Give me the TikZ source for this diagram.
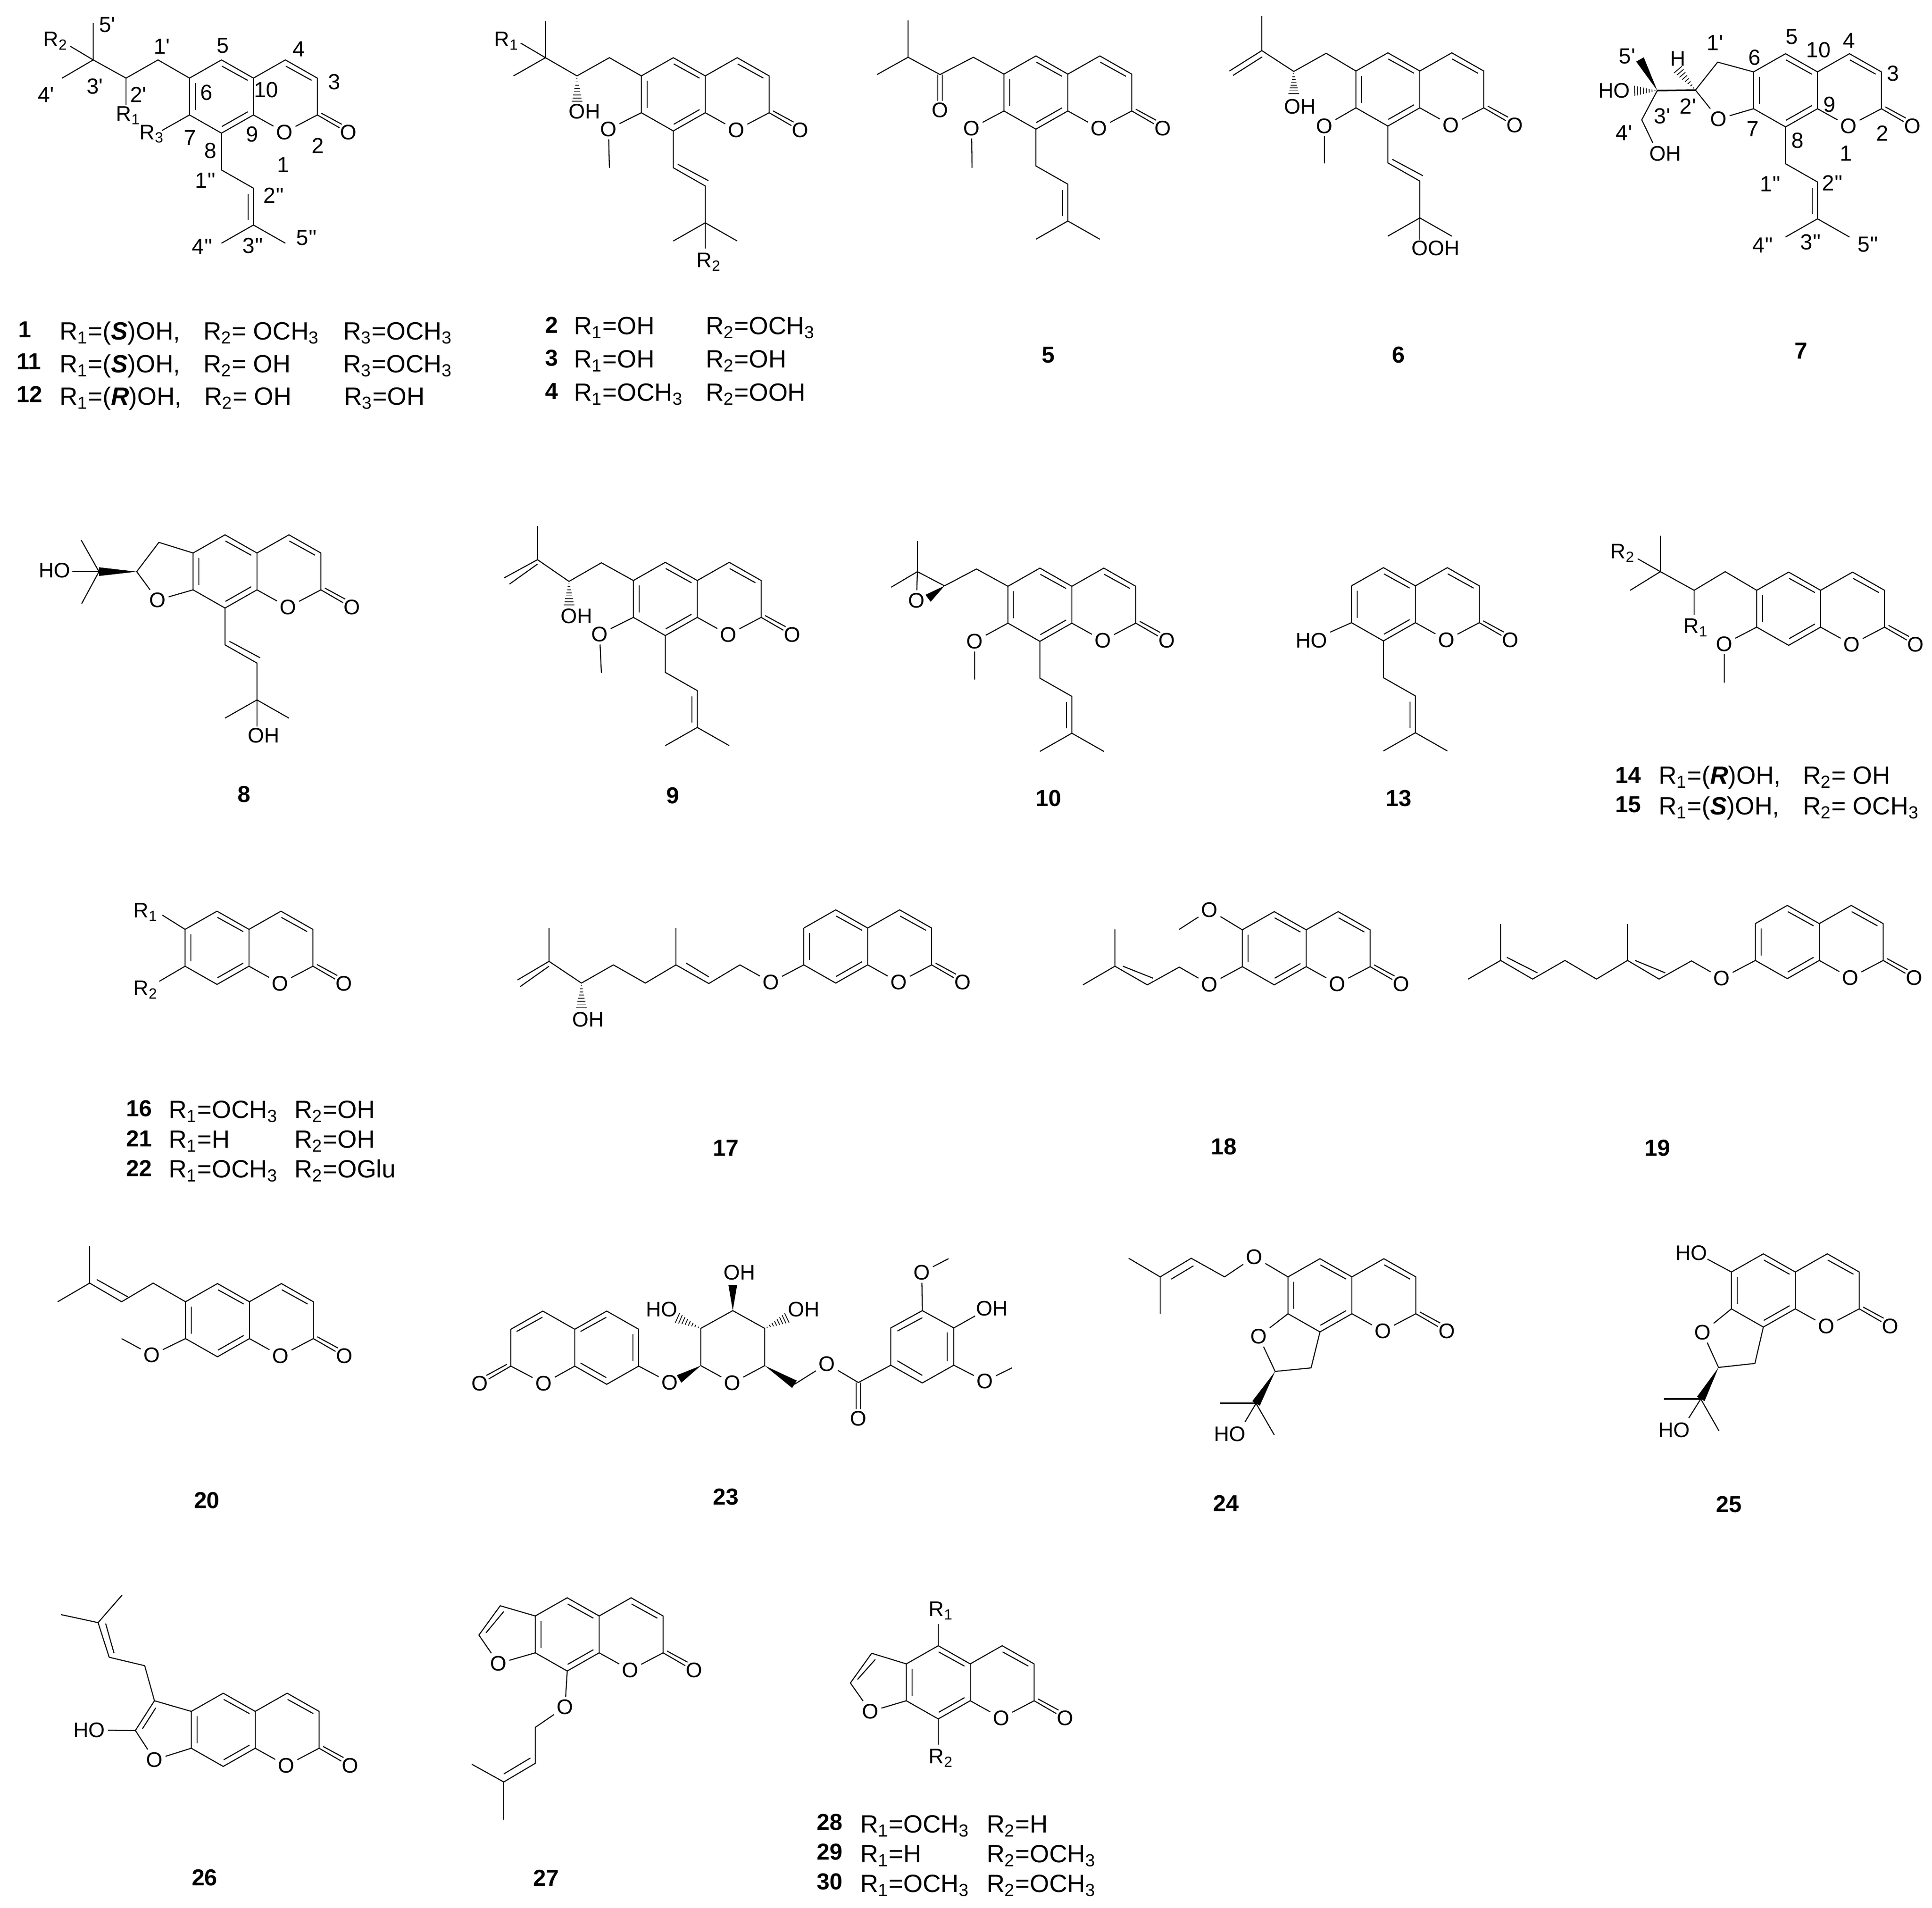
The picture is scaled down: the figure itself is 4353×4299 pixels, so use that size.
\documentclass[tikz,border=0pt]{standalone}
\usepackage{fontspec}
\setmainfont{Liberation Sans}[Ligatures=TeXOff]
\usetikzlibrary{calc}

\newcommand{\atomsize}{\fontsize{13.5}{15}\selectfont}
\newcommand{\numsize}{\fontsize{14}{16}\selectfont}
\newcommand{\captsize}{\fontsize{16}{18}\selectfont}
\newcommand{\cpdsize}{\fontsize{14.8}{17}\selectfont}
\newcommand{\Rn}[1]{R\textsubscript{#1}}
\newcommand{\hashbond}[2]{\foreach \hb in {0.1,0.22,...,0.94}{\draw[line width=0.5pt] ($(#1)!\hb!(#2)!\hb*3.5pt!90:(#2)$) -- ($(#1)!\hb!(#2)!\hb*3.5pt!-90:(#2)$);}}
\newcommand{\wedgebond}[2]{\fill (#1) -- ($(#2)!2.8pt!90:(#1)$) -- ($(#2)!2.8pt!-90:(#1)$) -- cycle;}

\tikzset{
 atom/.style={inner sep=1.5pt,font=\atomsize},
 numlbl/.style={inner sep=0pt,font=\numsize},
 capt/.style={anchor=base west,inner sep=0pt,font=\captsize},
 cpd/.style={inner sep=0pt,font=\cpdsize\bfseries},
 cpdw/.style={anchor=base west,inner sep=0pt,font=\cpdsize\bfseries},
 coumarin/.pic={
  \coordinate (-c6) at (0,0);
  \coordinate (-c5) at (72,-41);
  \coordinate (-c10) at (144,0);
  \coordinate (-c4) at (216,-41);
  \coordinate (-c3) at (288,0);
  \coordinate (-c2) at (288,83);
  \coordinate (-c9) at (144,83);
  \coordinate (-c8) at (72,124);
  \coordinate (-c7) at (0,83);
  \node[atom] (-o1) at (214,122) {O};
  \node[atom] (-o2) at (358,122) {O};
  \draw (-c6) -- (-c5) -- (-c10) -- (-c4) -- (-c3) -- (-c2) -- (-o1) -- (-c9) -- (-c8) -- (-c7) -- (-c6);
  \draw (-c10) -- (-c9);
  \draw (13,11) -- (13,72);
  \draw (73,-27) -- (131,5);
  \draw (217,-27) -- (275,5);
  \draw (131,76) -- (73,109);
  \draw (288,83) -- (338,112);
  \draw (297,79) -- (343,104);
 },
 prenyl/.pic={
  \coordinate (-a) at (0,83);
  \coordinate (-b) at (72,124);
  \coordinate (-q) at (72,207);
  \draw (0,0) -- (-a) -- (-b) -- (-q) -- (0,248);
  \draw (-q) -- (144,248);
  \draw (60,137) -- (60,196);
 },
 vinyl/.pic={
  \coordinate (-a) at (0,83);
  \coordinate (-b) at (72,124);
  \coordinate (-q) at (72,207);
  \draw (0,0) -- (-a) -- (-b) -- (-q) -- (0,248);
  \draw (-q) -- (144,248);
  \draw (10,75) -- (79,112);
 },
}

\begin{document}
\begin{tikzpicture}[x=0.01cm,y=-0.01cm,line width=0.65pt,line join=round]
 \useasboundingbox (0,0) rectangle (4353,4299);

 % 1
 \pic (s1) at (427,176) {coumarin};
 \pic at (s1-c8) {prenyl};
 \draw (s1-c6) -- ++(-71,-41) -- ++(-72,41) coordinate (s1a) -- ++(-74,-41) coordinate (s1b) -- ++(0,-83);
 \draw (s1b) -- ++(-70,41);
 \draw (s1b) -- ++(-52,-31);
 \draw (s1a) -- ++(0,60);
 \draw (s1-c7) -- ++(-62,35);
 \node[atom] (s1r1) at (289,260) {\Rn{1}};
 \node[atom] (s1r2) at (125,92) {\Rn{2}};
 \node[atom] (s1r3) at (342,302) {\Rn{3}};
 \node[numlbl] (n1a) at (242,56) {5'};
 \node[numlbl] (n1b) at (365,105) {1'};
 \node[numlbl] (n1c) at (502,103) {5};
 \node[numlbl] (n1d) at (673,111) {4};
 \node[numlbl] (n1e) at (753,185) {3};
 \node[numlbl] (n1f) at (465,209) {6};
 \node[numlbl] (n1g) at (600,203) {10};
 \node[numlbl] (n1h) at (312,213) {2'};
 \node[numlbl] (n1i) at (214,195) {3'};
 \node[numlbl] (n1j) at (104,214) {4'};
 \node[numlbl] (n1k) at (428,311) {7};
 \node[numlbl] (n1l) at (568,303) {9};
 \node[numlbl] (n1m) at (474,340) {8};
 \node[numlbl] (n1n) at (716,328) {2};
 \node[numlbl] (n1o) at (638,372) {1};
 \node[numlbl] (n1p) at (463,407) {1''};
 \node[numlbl] (n1q) at (617,440) {2''};
 \node[numlbl] (n1r) at (691,536) {5''};
 \node[numlbl] (n1s) at (456,556) {4''};
 \node[numlbl] (n1t) at (570,554) {3''};
 \node[cpdw] (t1) at (40,760) {1};
 \node[capt] (t1a) at (133,765) {\Rn{1}=(\textbf{\textit{S}})OH,};
 \node[capt] (t1b) at (457,765) {\Rn{2}= OCH\textsubscript{3}};
 \node[capt] (t1c) at (772,765) {\Rn{3}=OCH\textsubscript{3}};
 \node[cpdw] (t11) at (36,832) {11};
 \node[capt] (t11a) at (133,839) {\Rn{1}=(\textbf{\textit{S}})OH,};
 \node[capt] (t11b) at (457,839) {\Rn{2}= OH};
 \node[capt] (t11c) at (772,839) {\Rn{3}=OCH\textsubscript{3}};
 \node[cpdw] (t12) at (36,906) {12};
 \node[capt] (t12a) at (133,912) {\Rn{1}=(\textbf{\textit{R}})OH,};
 \node[capt] (t12b) at (459,912) {\Rn{2}= OH};
 \node[capt] (t12c) at (774,912) {\Rn{3}=OH};

 % 2 3 4
 \pic (s2) at (1445,171) {coumarin};
 \pic (s2v) at (s2-c8) {vinyl};
 \draw (s2-c6) -- ++(-72,-41) -- ++(-73,41) coordinate (s2a) -- ++(-71,-41) coordinate (s2b) -- ++(0,-82);
 \draw (s2b) -- ++(-72,41);
 \draw (s2b) -- ++(-56,-33);
 \coordinate (s2h) at (1300,232);
 \hashbond{s2a}{s2h}
 \node[atom] (s2oh) at (1317,251) {OH};
 \node[atom] (s2o) at (1371,291) {O};
 \draw (s2-c7) -- (s2o) -- ++(2,87);
 \draw (s2v-q) -- ++(0,58);
 \node[atom] (s2r1) at (1141,92) {\Rn{1}};
 \node[atom] (s2r2) at (1597,590) {\Rn{2}};
 \node[cpdw] (t2) at (1227,750) {2};
 \node[capt] (t2a) at (1292,753) {\Rn{1}=OH};
 \node[capt] (t2b) at (1589,753) {\Rn{2}=OCH\textsubscript{3}};
 \node[cpdw] (t3) at (1227,824) {3};
 \node[capt] (t3a) at (1292,828) {\Rn{1}=OH};
 \node[capt] (t3b) at (1589,828) {\Rn{2}=OH};
 \node[cpdw] (t4) at (1227,899) {4};
 \node[capt] (t4a) at (1292,903) {\Rn{1}=OCH\textsubscript{3}};
 \node[capt] (t4b) at (1589,903) {\Rn{2}=OOH};

 % 5
 \pic (s5) at (2262,167) {coumarin};
 \pic at (s5-c8) {prenyl};
 \draw (s5-c6) -- ++(-69,-38) -- ++(-75,39) coordinate (s5a) -- ++(-72,-39) coordinate (s5b) -- ++(0,-83);
 \draw (s5b) -- ++(-70,39);
 \node[atom] (s5co) at (2118,248) {O};
 \draw (2113,168) -- (2113,227);
 \draw (2123,168) -- (2123,227);
 \node[atom] (s5o) at (2189,289) {O};
 \draw (s5-c7) -- (s5o) -- ++(1,89);
 \node[cpd] (t5) at (2362,800) {5};

 % 6
 \pic (s6) at (3055,160) {coumarin};
 \pic (s6v) at (s6-c8) {vinyl};
 \draw (s6-c6) -- ++(-67,-40) -- ++(-73,41) coordinate (s6a) -- ++(-72,-47) coordinate (s6b) -- ++(0,-78);
 \draw (s6b) -- ++(-73,46);
 \draw (2844,128) -- (2778,170);
 \coordinate (s6h) at (2915,214);
 \hashbond{s6a}{s6h}
 \node[atom] (s6oh) at (2929,240) {OH};
 \node[atom] (s6o) at (2984,284) {O};
 \draw (s6-c7) -- (s6o) -- ++(0,84);
 \draw (s6v-q) -- ++(0,49);
 \node[atom] (s6ooh) at (3235,559) {OOH};
 \node[cpd] (t6) at (3151,800) {6};

 % 7
 \pic (s7) at (3951,162) {coumarin};
 \pic at (s7-c8) {prenyl};
 \coordinate (s7a) at (3870,140);
 \coordinate (s7b) at (3820,203);
 \coordinate (s7c) at (3734,204);
 \coordinate (s7d) at (3699,270);
 \coordinate (s7e) at (3695,134);
 \coordinate (s7f) at (3778,154);
 \coordinate (s7g) at (3680,205);
 \node[atom] (s7o) at (3872,268) {O};
 \draw (s7-c6) -- (s7a) -- (s7b) -- (s7o) -- (s7-c7);
 \draw[line width=1pt] (s7b) -- (s7c);
 \wedgebond{s7c}{s7e}
 \hashbond{s7b}{s7f}
 \hashbond{s7c}{s7g}
 \node[atom] (s7h) at (3781,132) {H};
 \node[atom] (s7ho) at (3637,204) {HO};
 \node[atom] (s7oh) at (3752,346) {OH};
 \draw (s7c) -- (s7d) -- ++(25,52);
 \node[numlbl] (n7a) at (3666,127) {5'};
 \node[numlbl] (n7b) at (3864,97) {1'};
 \node[numlbl] (n7c) at (3953,130) {6};
 \node[numlbl] (n7d) at (4037,83) {5};
 \node[numlbl] (n7e) at (4097,113) {10};
 \node[numlbl] (n7f) at (4166,92) {4};
 \node[numlbl] (n7g) at (4265,166) {3};
 \node[numlbl] (n7h) at (4122,236) {9};
 \node[numlbl] (n7i) at (4241,300) {2};
 \node[numlbl] (n7j) at (4050,317) {8};
 \node[numlbl] (n7k) at (3949,291) {7};
 \node[numlbl] (n7l) at (4159,346) {1};
 \node[numlbl] (n7m) at (3803,239) {2'};
 \node[numlbl] (n7n) at (3745,262) {3'};
 \node[numlbl] (n7o) at (3659,300) {4'};
 \node[numlbl] (n7p) at (3989,415) {1''};
 \node[numlbl] (n7q) at (4129,412) {2''};
 \node[numlbl] (n7r) at (3972,553) {4''};
 \node[numlbl] (n7s) at (4080,546) {3''};
 \node[numlbl] (n7t) at (4209,551) {5''};
 \node[cpd] (t7) at (4058,791) {7};

 % 8
 \pic (s8) at (435,1246) {coumarin};
 \pic (s8v) at (s8-c8) {vinyl};
 \coordinate (s8a) at (358,1222);
 \coordinate (s8b) at (308,1288);
 \coordinate (s8c) at (223,1288);
 \node[atom] (s8o) at (355,1352) {O};
 \node[atom] (s8ho) at (123,1285) {HO};
 \draw (s8-c6) -- (s8a) -- (s8b) -- (s8o) -- (s8-c7);
 \wedgebond{s8b}{s8c}
 \draw (s8c) -- ++(-60,0);
 \draw (183,1217) -- (s8c) -- (184,1360);
 \draw (s8v-q) -- ++(0,60);
 \node[atom] (s8oh) at (594,1657) {OH};
 \node[cpd] (t8) at (550,1790) {8};

 % 9
 \pic (s9) at (1427,1308) {coumarin};
 \pic at (s9-c8) {prenyl};
 \draw (s9-c6) -- ++(-72,-40) -- ++(-73,42) coordinate (s9a) -- ++(-71,-49) coordinate (s9b) -- ++(0,-76);
 \draw (s9b) -- ++(-75,41);
 \draw (1211,1271) -- (1148,1316);
 \coordinate (s9h) at (1282,1366);
 \hashbond{s9a}{s9h}
 \node[atom] (s9oh) at (1299,1388) {OH};
 \node[atom] (s9o) at (1351,1429) {O};
 \draw (s9-c7) -- (s9o) -- ++(4,87);
 \node[cpd] (t9) at (1516,1793) {9};

 % 10
 \pic (s10) at (2271,1321) {coumarin};
 \pic at (s10-c8) {prenyl};
 \coordinate (s10a) at (2200,1282);
 \coordinate (s10b) at (2128,1320);
 \coordinate (s10c) at (2067,1288);
 \coordinate (s10w) at (2091,1348);
 \node[atom] (s10ep) at (2065,1353) {O};
 \draw (s10-c6) -- (s10a) -- (s10b) -- (s10c) -- ++(0,-69);
 \draw (s10c) -- ++(-59,35);
 \draw (s10c) -- (s10ep);
 \wedgebond{s10b}{s10w}
 \node[atom] (s10o) at (2196,1445) {O};
 \draw (s10-c7) -- (s10o) -- ++(0,86);
 \node[cpd] (t10) at (2362,1799) {10};

 % 13
 \pic (s13) at (3045,1320) {coumarin};
 \pic at (s13-c8) {prenyl};
 \node[atom] (s13ho) at (2955,1443) {HO};
 \draw (s13-c7) -- (s13ho);
 \node[cpd] (t13) at (3151,1799) {13};

 % 14 15
 \pic (s14) at (3958,1330) {coumarin};
 \draw (s14-c6) -- ++(-71,-42) -- ++(-70,42) coordinate (s14a) -- ++(-76,-42) coordinate (s14b) -- ++(0,-81);
 \draw (s14b) -- ++(-68,42);
 \draw (s14b) -- ++(-51,-29);
 \draw (s14a) -- ++(0,56);
 \node[atom] (s14r1) at (3821,1414) {\Rn{1}};
 \node[atom] (s14r2) at (3656,1246) {\Rn{2}};
 \node[atom] (s14o) at (3885,1451) {O};
 \draw (s14-c7) -- (s14o) -- ++(0,87);
 \node[cpdw] (t14) at (3638,1764) {14};
 \node[capt] (t14a) at (3736,1766) {\Rn{1}=(\textbf{\textit{R}})OH,};
 \node[capt] (t14b) at (4061,1766) {\Rn{2}= OH};
 \node[cpdw] (t15) at (3638,1830) {15};
 \node[capt] (t15a) at (3736,1835) {\Rn{1}=(\textbf{\textit{S}})OH,};
 \node[capt] (t15b) at (4061,1835) {\Rn{2}= OCH\textsubscript{3}};

 % 16 21 22
 \pic (s16) at (417,2094) {coumarin};
 \draw (s16-c6) -- ++(-51,-32);
 \draw (s16-c7) -- ++(-58,34);
 \node[atom] (s16r1) at (328,2055) {\Rn{1}};
 \node[atom] (s16r2) at (328,2230) {\Rn{2}};
 \node[cpdw] (t16) at (283,2515) {16};
 \node[capt] (t16a) at (379,2519) {\Rn{1}=OCH\textsubscript{3}};
 \node[capt] (t16b) at (662,2519) {\Rn{2}=OH};
 \node[cpdw] (t21) at (283,2583) {21};
 \node[capt] (t21a) at (379,2586) {\Rn{1}=H};
 \node[capt] (t21b) at (662,2586) {\Rn{2}=OH};
 \node[cpdw] (t22) at (283,2650) {22};
 \node[capt] (t22a) at (379,2653) {\Rn{1}=OCH\textsubscript{3}};
 \node[capt] (t22b) at (662,2653) {\Rn{2}=OGlu};

 % 17
 \pic (s17) at (1811,2091) {coumarin};
 \node[atom] (s17o) at (1737,2213) {O};
 \coordinate (s17a) at (1667,2174);
 \coordinate (s17b) at (1597,2216);
 \coordinate (s17c) at (1523,2174);
 \coordinate (s17d) at (1454,2215);
 \coordinate (s17e) at (1382,2174);
 \coordinate (s17f) at (1310,2215);
 \coordinate (s17g) at (1237,2166);
 \coordinate (s17h) at (1310,2273);
 \draw (s17-c7) -- (s17o) -- (s17a) -- (s17b) -- (s17c) -- (s17d) -- (s17e) -- (s17f) -- (s17g) -- ++(0,-75);
 \draw (s17c) -- ++(0,-83);
 \draw (1546,2170) -- (1597,2201);
 \draw (s17g) -- ++(-71,42);
 \draw (1237,2177) -- (1172,2223);
 \hashbond{s17f}{s17h}
 \node[atom] (s17oh) at (1325,2297) {OH};
 \node[cpd] (t17) at (1635,2587) {17};

 % 18
 \pic (s18) at (2799,2095) {coumarin};
 \node[atom] (s18oa) at (2725,2050) {O};
 \draw (s18-c6) -- (s18oa) -- ++(-68,44);
 \node[atom] (s18ob) at (2725,2218) {O};
 \coordinate (s18a) at (2657,2179);
 \coordinate (s18b) at (2585,2219);
 \coordinate (s18c) at (2512,2177);
 \draw (s18-c7) -- (s18ob) -- (s18a) -- (s18b) -- (s18c) -- ++(0,-83);
 \draw (s18c) -- ++(-72,42);
 \draw (2530,2177) -- (2598,2204);
 \node[cpd] (t18) at (2757,2584) {18};

 % 19
 \pic (s19) at (3955,2081) {coumarin};
 \node[atom] (s19o) at (3879,2204) {O};
 \coordinate (s19a) at (3811,2165);
 \coordinate (s19b) at (3738,2206);
 \coordinate (s19c) at (3667,2164);
 \coordinate (s19d) at (3597,2206);
 \coordinate (s19e) at (3526,2164);
 \coordinate (s19f) at (3453,2206);
 \coordinate (s19g) at (3381,2164);
 \draw (s19-c7) -- (s19o) -- (s19a) -- (s19b) -- (s19c) -- (s19d) -- (s19e) -- (s19f) -- (s19g) -- ++(0,-82);
 \draw (s19c) -- ++(0,-82);
 \draw (s19g) -- ++(-73,42);
 \draw (3684,2164) -- (3752,2192);
 \draw (3395,2157) -- (3464,2192);
 \node[cpd] (t19) at (3734,2587) {19};

 % 20
 \pic (s20) at (418,2933) {coumarin};
 \coordinate (s20a) at (345,2891);
 \coordinate (s20b) at (274,2933);
 \coordinate (s20c) at (202,2891);
 \draw (s20-c6) -- (s20a) -- (s20b) -- (s20c) -- ++(0,-83);
 \draw (s20c) -- ++(-72,42);
 \draw (218,2883) -- (288,2922);
 \node[atom] (s20o) at (342,3053) {O};
 \draw (s20-c7) -- (s20o) -- ++(-68,-37);
 \node[cpd] (t20) at (466,3381) {20};

 % 23
 \pic[xscale=-1] (s23) at (1439,2995) {coumarin};
 \node[atom] (s23oa) at (1509,3115) {O};
 \draw (s23-c7) -- (s23oa);
 \coordinate (s23a) at (1579,3077);
 \coordinate (s23b) at (1579,2993);
 \coordinate (s23c) at (1651,2953);
 \coordinate (s23d) at (1723,2993);
 \coordinate (s23e) at (1723,3077);
 \coordinate (s23f) at (1790,3119);
 \coordinate (s23g) at (1530,3107);
 \coordinate (s23h) at (1523,2968);
 \coordinate (s23i) at (1651,2895);
 \coordinate (s23j) at (1776,2968);
 \node[atom] (s23ob) at (1650,3116) {O};
 \draw (s23a) -- (s23b) -- (s23c) -- (s23d) -- (s23e) -- (s23ob) -- (s23a);
 \wedgebond{s23a}{s23g}
 \wedgebond{s23e}{s23f}
 \wedgebond{s23c}{s23i}
 \hashbond{s23b}{s23h}
 \hashbond{s23d}{s23j}
 \node[atom] (s23oh) at (1491,2950) {HO};
 \node[atom] (s23oi) at (1666,2867) {OH};
 \node[atom] (s23oj) at (1811,2950) {OH};
 \node[atom] (s23oc) at (1863,3073) {O};
 \coordinate (s23k) at (1934,3115);
 \draw (s23f) -- (s23oc) -- (s23k);
 \node[atom] (s23od) at (1934,3196) {O};
 \draw (1929,3115) -- (1929,3175);
 \draw (1939,3115) -- (1939,3175);
 \coordinate (s23l) at (2007,3076);
 \coordinate (s23m) at (2007,2992);
 \coordinate (s23n) at (2078,2953);
 \coordinate (s23p) at (2149,2992);
 \coordinate (s23q) at (2149,3076);
 \coordinate (s23r) at (2078,3116);
 \draw (s23k) -- (s23l) -- (s23m) -- (s23n) -- (s23p) -- (s23q) -- (s23r) -- (s23l);
 \draw (2022,2999) -- (2078,2969);
 \draw (2134,3002) -- (2134,3067);
 \draw (2022,3066) -- (2078,3099);
 \node[atom] (s23oe) at (2077,2867) {O};
 \draw (s23n) -- (s23oe);
 \draw (s23oe) -- ++(60,-31);
 \node[atom] (s23of) at (2235,2948) {OH};
 \draw (s23p) -- (2197,2965);
 \node[atom] (s23og) at (2219,3112) {O};
 \draw (s23q) -- (s23og) -- ++(61,-30);
 \node[cpd] (t23) at (1635,3373) {23};

 % 24
 \pic (s24) at (2902,2877) {coumarin};
 \node[atom] (s24oa) at (2826,2832) {O};
 \coordinate (s24a) at (2759,2877);
 \coordinate (s24b) at (2684,2835);
 \coordinate (s24c) at (2614,2877);
 \draw (s24-c6) -- (s24oa) -- (s24a) -- (s24b) -- (s24c) -- ++(-71,-42);
 \draw (s24c) -- ++(0,83);
 \draw (2689,2852) -- (2639,2882);
 \node[atom] (s24ob) at (2836,3011) {O};
 \coordinate (s24d) at (2873,3090);
 \coordinate (s24e) at (2954,3082);
 \coordinate (s24f) at (2830,3162);
 \draw (s24-c7) -- (s24ob) -- (s24d) -- (s24e) -- (s24-c8);
 \wedgebond{s24d}{s24f}
 \draw[line width=1pt] (s24f) -- ++(-81,0);
 \draw (s24f) -- ++(41,71);
 \draw (s24f) -- ++(-25,42);
 \node[atom] (s24ho) at (2771,3231) {HO};
 \node[cpd] (t24) at (2762,3387) {24};

 % 25
 \pic (s25) at (3901,2866) {coumarin};
 \node[atom] (s25hoa) at (3811,2823) {HO};
 \draw (s25-c6) -- ++(-54,-29);
 \node[atom] (s25o) at (3836,3002) {O};
 \coordinate (s25d) at (3872,3081);
 \coordinate (s25e) at (3954,3072);
 \coordinate (s25f) at (3832,3152);
 \draw (s25-c7) -- (s25o) -- (s25d) -- (s25e) -- (s25-c8);
 \wedgebond{s25d}{s25f}
 \draw[line width=1pt] (s25f) -- ++(-83,0);
 \draw (s25f) -- ++(41,72);
 \draw (s25f) -- ++(-27,43);
 \node[atom] (s25hob) at (3772,3222) {HO};
 \node[cpd] (t25) at (3895,3390) {25};

 % 26
 \pic (s26) at (431,3856) {coumarin};
 \coordinate (s26a) at (348,3832);
 \coordinate (s26b) at (305,3899);
 \coordinate (s26c) at (326,3753);
 \coordinate (s26d) at (246,3734);
 \coordinate (s26e) at (221,3656);
 \node[atom] (s26o) at (348,3965) {O};
 \node[atom] (s26ho) at (201,3898) {HO};
 \draw (s26-c6) -- (s26a) -- (s26b) -- (s26o) -- (s26-c7);
 \draw (s26ho) -- (s26b);
 \draw (351,3848) -- (321,3895);
 \draw (s26a) -- (s26c) -- (s26d) -- (s26e) -- ++(-83,-18);
 \draw (s26e) -- ++(54,-62);
 \draw (238,3658) -- (257,3725);
 \node[cpd] (t26) at (461,4231) {26};

 % 27
 \pic (s27) at (1206,3641) {coumarin};
 \coordinate (s27a) at (1127,3618);
 \coordinate (s27b) at (1079,3684);
 \node[atom] (s27oa) at (1123,3748) {O};
 \draw (s27-c6) -- (s27a) -- (s27b) -- (s27oa) -- (s27-c7);
 \draw (1135,3631) -- (1095,3679);
 \node[atom] (s27ob) at (1273,3846) {O};
 \coordinate (s27c) at (1206,3892);
 \coordinate (s27d) at (1206,3973);
 \coordinate (s27e) at (1135,4015);
 \draw (s27-c8) -- (s27ob) -- (s27c) -- (s27d) -- (s27e) -- ++(-72,-40);
 \draw (s27e) -- ++(0,85);
 \draw (1195,3961) -- (1135,3997);
 \node[cpd] (t27) at (1230,4231) {27};

 % 28 29 30
 \pic (s28) at (2042,3749) {coumarin};
 \coordinate (s28a) at (1964,3725);
 \coordinate (s28b) at (1916,3792);
 \node[atom] (s28o) at (1961,3856) {O};
 \draw (s28-c6) -- (s28a) -- (s28b) -- (s28o) -- (s28-c7);
 \draw (1972,3739) -- (1932,3784);
 \draw (s28-c5) -- ++(0,-49);
 \draw (s28-c8) -- ++(0,58);
 \node[atom] (s28r1) at (2120,3629) {\Rn{1}};
 \node[atom] (s28r2) at (2120,3961) {\Rn{2}};
 \node[cpdw] (t28) at (1839,4123) {28};
 \node[capt] (t28a) at (1937,4129) {\Rn{1}=OCH\textsubscript{3}};
 \node[capt] (t28b) at (2222,4129) {\Rn{2}=H};
 \node[cpdw] (t29) at (1839,4190) {29};
 \node[capt] (t29a) at (1937,4196) {\Rn{1}=H};
 \node[capt] (t29b) at (2222,4196) {\Rn{2}=OCH\textsubscript{3}};
 \node[cpdw] (t30) at (1839,4257) {30};
 \node[capt] (t30a) at (1937,4263) {\Rn{1}=OCH\textsubscript{3}};
 \node[capt] (t30b) at (2222,4263) {\Rn{2}=OCH\textsubscript{3}};
\end{tikzpicture}
\end{document}
